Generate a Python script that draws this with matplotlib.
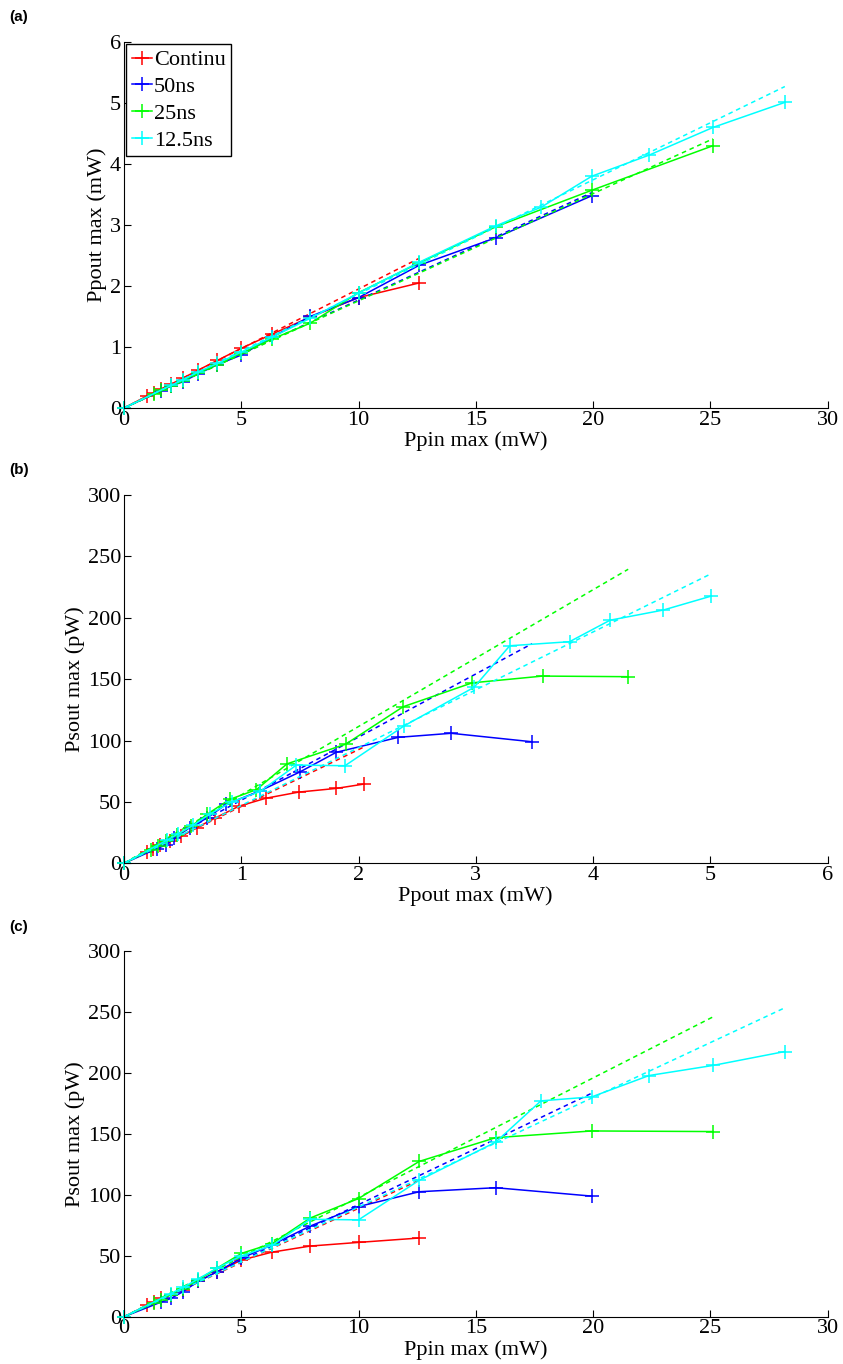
import numpy as np
import matplotlib
matplotlib.use("Agg")
import matplotlib.pyplot as plt

plt.rcParams['font.family'] = ['Liberation Serif', 'DejaVu Serif']
plt.rcParams['mathtext.fontset'] = 'stix'

# Continu
red_ppin = [0, 1.0, 1.26, 1.58, 2.0, 2.51, 3.16, 3.98, 5.01, 6.31, 7.94, 10.0, 12.59]
red_ppout = [0, 0.20, 0.25, 0.31, 0.39, 0.49, 0.62, 0.78, 0.98, 1.21, 1.49, 1.81, 2.05]
red_psout = [0, 9.5, 12, 15, 18, 22, 29, 37, 46.5, 53, 58, 61, 64.6]

# 50ns
blue_ppin = [0, 1.58, 2.0, 2.51, 3.16, 3.98, 5.01, 6.31, 7.94, 10.0, 12.59, 15.85, 19.95]
blue_ppout = [0, 0.28, 0.36, 0.43, 0.56, 0.71, 0.87, 1.16, 1.50, 1.81, 2.34, 2.79, 3.48]
blue_psout = [0, 12, 15, 20.5, 29, 37, 48, 59, 74.4, 90.4, 102.6, 105.9, 99]

# 25ns
green_ppin = [0, 1.26, 1.58, 2.0, 2.51, 3.16, 3.98, 5.01, 6.31, 7.94, 10.0, 12.59, 15.85, 19.95, 25.12]
green_ppout = [0, 0.23, 0.29, 0.36, 0.45, 0.57, 0.71, 0.90, 1.13, 1.39, 1.89, 2.38, 2.97, 3.57, 4.30]
green_psout = [0, 11, 14, 18, 23, 30, 40, 52, 60, 81, 97, 127.5, 147, 152.5, 152]

# 12.5ns
cyan_ppin = [0, 2.0, 2.51, 3.16, 3.98, 5.01, 6.31, 7.94, 10.0, 12.59, 15.85, 17.78, 19.95, 22.39, 25.12, 28.18]
cyan_ppout = [0, 0.37, 0.46, 0.59, 0.73, 0.92, 1.16, 1.47, 1.885, 2.39, 2.985, 3.29, 3.80, 4.145, 4.60, 5.01]
cyan_psout = [0, 19, 24, 31, 40, 50, 58.5, 80, 79.5, 112, 143.3, 177.2, 180.5, 198, 206.3, 217.7]

names = ['Continu', '50ns', '25ns', '12.5ns']
colors = ['#ff0000', '#0000ff', '#00ff00', '#00ffff']

# slopes of the dashed linear fits, per panel
fit_a = [0.195, 0.177, 0.1757, 0.187]
fit_b = [46.3, 51.4, 55.7, 47.1]
fit_c = [8.9, 9.2, 9.8, 9.0]

ppin = [red_ppin, blue_ppin, green_ppin, cyan_ppin]
ppout = [red_ppout, blue_ppout, green_ppout, cyan_ppout]
psout = [red_psout, blue_psout, green_psout, cyan_psout]

fig = plt.figure(figsize=(8.43, 13.64), dpi=100)
left, width = 124 / 843, 703.5 / 843
ax_a = fig.add_axes([left, 1 - 408 / 1364, width, 366 / 1364])
ax_b = fig.add_axes([left, 1 - 863.3 / 1364, width, 368.3 / 1364])
ax_c = fig.add_axes([left, 1 - 1316.7 / 1364, width, 365.4 / 1364])

panels = [
    (ax_a, ppin, ppout, fit_a, (0, 30), (0, 6), 'Ppin max (mW)', 'Ppout max (mW)', '(a)'),
    (ax_b, ppout, psout, fit_b, (0, 6), (0, 300), 'Ppout max (mW)', 'Psout max (pW)', '(b)'),
    (ax_c, ppin, psout, fit_c, (0, 30), (0, 300), 'Ppin max (mW)', 'Psout max (pW)', '(c)'),
]

for ax, xs, ys, fits, xl, yl, xlab, ylab, tag in panels:
    for i in range(4):
        x = np.array(xs[i])
        ax.plot(x, ys[i], '-', marker='+', color=colors[i], lw=1.1, ms=10, mew=1.1,
                label=names[i], clip_on=False)
        xe = np.array([0, x.max()])
        ax.plot(xe, fits[i] * xe, '--', color=colors[i], lw=1.1, dashes=(3, 2.5))
    ax.set_xlim(*xl)
    ax.set_ylim(*yl)
    ax.spines['top'].set_visible(False)
    ax.spines['right'].set_visible(False)
    ax.tick_params(direction='in', length=5, labelsize=16, pad=2)
    ax.set_xlabel(xlab, fontsize=16, labelpad=1)
    ax.set_ylabel(ylab, fontsize=16, labelpad=2)
    bb = ax.get_position()
    fig.text(0.011, bb.y1 + 0.013, tag, fontsize=11, fontweight='bold',
             family='Liberation Sans', va='bottom')

leg = ax_a.legend(loc='upper left', fontsize=16, handlelength=0.9, handletextpad=0.1,
                  borderpad=0.25, labelspacing=0.28, borderaxespad=0.1, fancybox=False,
                  framealpha=1, edgecolor='black')
leg.get_frame().set_linewidth(1.0)

fig.savefig('out.png', dpi=100)
